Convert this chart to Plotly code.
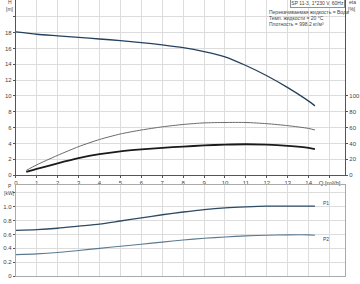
import plotly.graph_objects as go

# ---- data ----
q_h = [0, 1, 2, 3, 4, 5, 6, 7, 8, 9, 10, 11, 12, 13, 14, 14.3]
h_m = [18.1, 17.8, 17.6, 17.4, 17.2, 17.0, 16.75, 16.45, 16.1, 15.6, 14.95, 13.85, 12.55, 11.05, 9.35, 8.75]

q_eta = [0.5, 1, 2, 3, 4, 5, 6, 7, 8, 9, 10, 11, 12, 13, 14, 14.3]
eta_pump = [6, 13, 25, 36, 45, 52, 57, 61, 64, 66, 66.5, 66.5, 65, 62.5, 59, 57]
eta_total = [4, 8, 15, 21.5, 26.5, 30, 32.5, 34.5, 36, 37.5, 38.5, 39, 38.5, 37, 34.5, 33]

q_p = [0, 1, 2, 3, 4, 5, 6, 7, 8, 9, 10, 11, 12, 13, 14, 14.3]
p1 = [0.66, 0.67, 0.69, 0.72, 0.75, 0.795, 0.84, 0.885, 0.925, 0.96, 0.985, 1.0, 1.01, 1.01, 1.01, 1.01]
p2 = [0.31, 0.32, 0.34, 0.37, 0.40, 0.43, 0.46, 0.49, 0.52, 0.545, 0.565, 0.58, 0.59, 0.595, 0.595, 0.59]

q_ticks = list(range(0, 16))
q_ticktext = [str(v) for v in range(0, 15)] + ["Q [m³/h]"]
h_ticks = list(range(0, 21, 2))
h_ticktext = [str(v) for v in range(0, 19, 2)] + [""]
eta_ticks = [0, 20, 40, 60, 80, 100]
p_ticks = [0, 0.2, 0.4, 0.6, 0.8, 1.0, 1.2]
p_ticktext = ["0", "0.2", "0.4", "0.6", "0.8", "1.0", ""]

W, H = 360, 284
def px(x):
    return x / W
def py(y):
    return 1 - y / H

FONT = "Liberation Sans, Arial, sans-serif"
GRID = "#dcdcdc"
AX = "#555555"

sp = dict(shape="spline", smoothing=0.7)
fig = go.Figure()
fig.add_trace(go.Scatter(x=q_h, y=h_m, mode="lines", line=dict(color="#24425e", width=1.3, **sp), xaxis="x", yaxis="y", showlegend=False))
fig.add_trace(go.Scatter(x=q_eta, y=eta_pump, mode="lines", line=dict(color="#6a6a6a", width=1.0, **sp), xaxis="x", yaxis="y2", showlegend=False))
fig.add_trace(go.Scatter(x=q_eta, y=eta_total, mode="lines", line=dict(color="#1a1a1a", width=1.8, **sp), xaxis="x", yaxis="y2", showlegend=False))
fig.add_trace(go.Scatter(x=q_p, y=p1, mode="lines", line=dict(color="#2e4a63", width=1.3, **sp), xaxis="x2", yaxis="y3", showlegend=False))
fig.add_trace(go.Scatter(x=q_p, y=p2, mode="lines", line=dict(color="#5a7a90", width=1.1, **sp), xaxis="x2", yaxis="y3", showlegend=False))

tickfont = dict(family=FONT, size=6, color="#444444")
xdom = [px(14), px(347)]
xr = [0, (347 - 14) / 21.15]

fig.update_layout(
    width=W, height=H,
    margin=dict(l=0, r=0, t=0, b=0),
    paper_bgcolor="white", plot_bgcolor="white",
    xaxis=dict(domain=xdom, range=xr, tickvals=q_ticks, ticktext=q_ticktext, tickfont=tickfont,
               showgrid=True, gridcolor=GRID, gridwidth=1, showline=True, linecolor=AX, linewidth=1,
               ticks="outside", ticklen=2, tickcolor=AX, zeroline=False, anchor="y"),
    yaxis=dict(domain=[py(177), 1], range=[0, 177 / 8], tickvals=h_ticks, ticktext=h_ticktext, tickfont=tickfont,
               showgrid=True, gridcolor=GRID, showline=True, linecolor=AX, linewidth=1,
               ticks="outside", ticklen=2, tickcolor=AX, zeroline=False, anchor="x"),
    yaxis2=dict(overlaying="y", side="right", range=[0, 1770 / 8], tickvals=eta_ticks, tickfont=tickfont,
                showgrid=False, showline=True, linecolor=AX, linewidth=1, ticks="outside", ticklen=2,
                tickcolor=AX, zeroline=False, anchor="x"),
    xaxis2=dict(domain=xdom, range=xr, tickvals=q_ticks, showticklabels=False, showgrid=True, gridcolor=GRID,
                showline=True, linecolor="#aaaaaa", linewidth=1, mirror=True, zeroline=False, anchor="y3"),
    yaxis3=dict(domain=[py(279), py(187)], range=[0, (279 - 187) / 70], tickvals=p_ticks, ticktext=p_ticktext,
                tickfont=tickfont, showgrid=True, gridcolor=GRID, showline=True, linecolor="#aaaaaa", linewidth=1,
                mirror=True, ticks="outside", ticklen=2, tickcolor=AX, zeroline=False, anchor="x2"),
)

def ann(text, x, y, size=5.5, xanchor="left", yanchor="middle", **kw):
    fig.add_annotation(text=text, x=px(x), y=py(y), xref="paper", yref="paper", showarrow=False,
                       xanchor=xanchor, yanchor=yanchor, font=dict(family=FONT, size=size, color="#444444"), **kw)

ann("H", 8, 2.5, size=5, xanchor="center")
ann("[m]", 8, 9, size=5, xanchor="center")
ann("eta", 354, 2.5, size=5, xanchor="center")
ann("[%]", 354, 9.5, size=5, xanchor="center")
ann("P", 8, 188, size=5, xanchor="center")
ann("[kW]", 8, 195, size=5, xanchor="center")
ann("P1", 328, 205, size=5, xanchor="center")
ann("P2", 328, 242, size=5, xanchor="center")
ann("SP 11-3, 1*230 V, 60Hz", 319, 3.5, size=5, xanchor="center", bordercolor="#777777", borderwidth=0.8,
    borderpad=0.5, bgcolor="white")
ann("Перекачиваемая жидкость = Вода", 268, 12.5, size=5)
ann("Темп. жидкости = 20 °C", 268, 18.5, size=5)
ann("Плотность = 998.2 кг/м³", 268, 24.5, size=5)

fig.write_html("out.html")
